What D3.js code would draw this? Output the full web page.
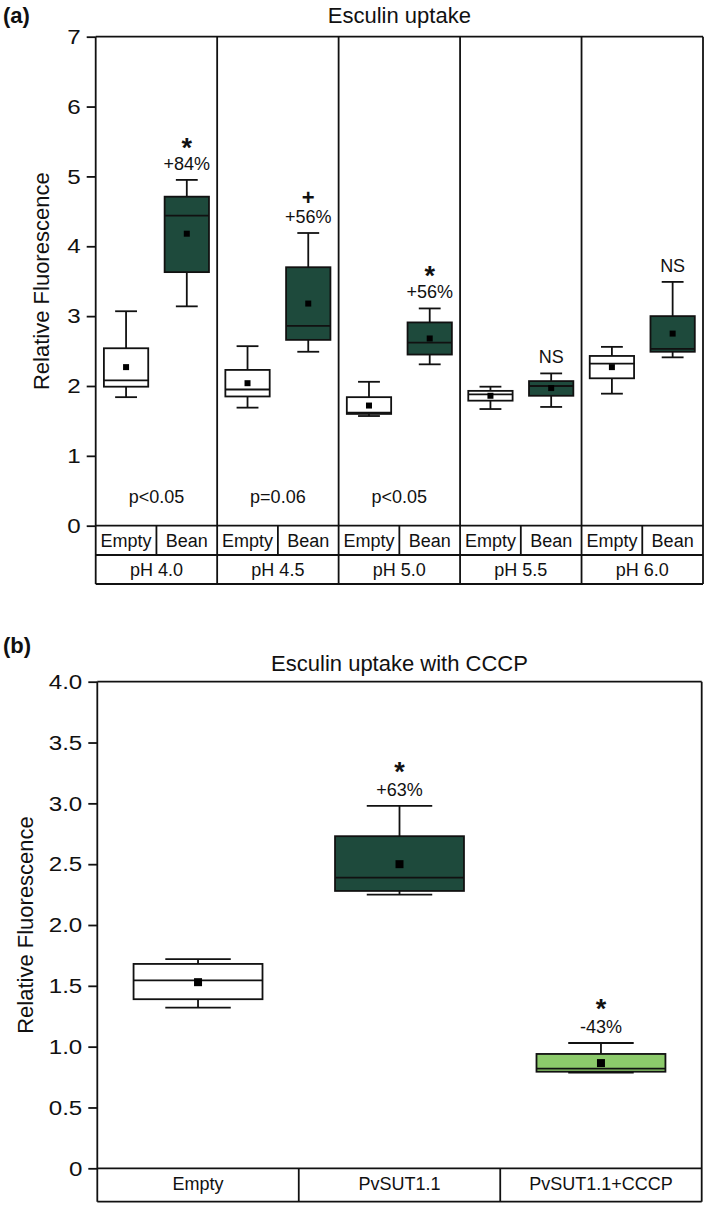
<!DOCTYPE html>
<html>
<head>
<meta charset="utf-8">
<script src="https://cdn.jsdelivr.net/npm/d3@7"></script>
<style>
  body { margin: 0; background: #fff; }
  svg text { font-family: "Liberation Sans", Arial, sans-serif; fill: #111; }
</style>
</head>
<body>
<svg id="chart" width="709" height="1207"></svg>
<script>
// panel (a) data: [whisker low, q1, median, q3, whisker high]
var phGroups = ["pH 4.0", "pH 4.5", "pH 5.0", "pH 5.5", "pH 6.0"];
var strains = ["Empty", "Bean"];
var emptyBoxes = [[1.84, 1.99, 2.08, 2.54, 3.07], [1.69, 1.85, 1.95, 2.23, 2.57], [1.57, 1.60, 1.62, 1.84, 2.06], [1.67, 1.79, 1.88, 1.93, 1.99], [1.89, 2.11, 2.32, 2.43, 2.56]];
var emptyMeans = [2.27, 2.04, 1.72, 1.86, 2.27];
var beanBoxes = [[3.14, 3.63, 4.44, 4.71, 4.95], [2.49, 2.66, 2.86, 3.70, 4.19], [2.31, 2.45, 2.62, 2.91, 3.11], [1.70, 1.86, 2.00, 2.07, 2.18], [2.41, 2.49, 2.53, 3.00, 3.49]];
var beanMeans = [4.18, 3.18, 2.68, 1.97, 2.75];
var beanChange = ["+84%", "+56%", "+56%", "NS", "NS"];
var beanMarks = ["*", "+", "*", "", ""];
var pValues = ["p<0.05", "p=0.06", "p<0.05", "", ""];
var ticksA = [0, 1, 2, 3, 4, 5, 6, 7];

// panel (b) data
var cccpGroups = ["Empty", "PvSUT1.1", "PvSUT1.1+CCCP"];
var cccpBoxes = [[1.32, 1.39, 1.545, 1.68, 1.72], [2.25, 2.28, 2.39, 2.73, 2.98], [0.786, 0.794, 0.82, 0.94, 1.03]];
var cccpMeans = [1.53, 2.50, 0.865];
var cccpChange = ["", "+63%", "-43%"];
var cccpMarks = ["", "*", "*"];
var ticksB = [0, 0.5, 1.0, 1.5, 2.0, 2.5, 3.0, 3.5, 4.0];

var darkGreen = "#1e4a3c", lightGreen = "#8cca6b";
var svg = d3.select("#chart");
var lw = 1.8;

function line(g, x1, y1, x2, y2) {
  g.append("line").attr("x1", x1).attr("y1", y1).attr("x2", x2).attr("y2", y2)
    .attr("stroke", "#111").attr("stroke-width", lw);
}

function drawBox(g, b, mean, cx, bw, cw, fill, y, ms) {
  line(g, cx, y(b[3]), cx, y(b[4]));
  line(g, cx, y(b[1]), cx, y(b[0]));
  line(g, cx - cw / 2, y(b[4]), cx + cw / 2, y(b[4]));
  line(g, cx - cw / 2, y(b[0]), cx + cw / 2, y(b[0]));
  g.append("rect").attr("x", cx - bw / 2).attr("y", y(b[3]))
    .attr("width", bw).attr("height", y(b[1]) - y(b[3]))
    .attr("fill", fill).attr("stroke", "#111").attr("stroke-width", lw);
  line(g, cx - bw / 2, y(b[2]), cx + bw / 2, y(b[2]));
  g.append("rect").attr("x", cx - ms / 2).attr("y", y(mean) - ms / 2)
    .attr("width", ms).attr("height", ms).attr("fill", "#000");
}

// significance mark and change label as one two-line text above the whisker cap
function annotate(g, cx, top, change, mark, starGap) {
  if (!change && !mark) return;
  var t = g.append("text").attr("text-anchor", "middle");
  if (mark === "*") t.append("tspan").attr("x", cx).attr("y", top - starGap)
    .attr("font-size", 27).attr("font-weight", "bold").text(mark);
  if (mark === "+") t.append("tspan").attr("x", cx).attr("y", top - 28)
    .attr("font-size", 22).attr("font-weight", "bold").text(mark);
  if (change) t.append("tspan").attr("x", cx).attr("y", top - 10)
    .attr("font-size", 18).text(change);
}

// tick labels in the figure are a little wider than the font
function styleAxis(ax) {
  ax.select(".domain").remove();
  ax.selectAll(".tick line").attr("stroke", "#111").attr("stroke-width", lw);
  ax.selectAll(".tick text").attr("font-size", 21).attr("font-family", null).attr("fill", "#111")
    .attr("x", 0).attr("transform", "translate(-15,0) scale(1.15,1)");
}

// ---------- panel (a) ----------
var a = { left: 95.7, right: 703, top: 36.7, bottom: 525.7, row1: 555, row2: 584 };
var gA = svg.append("g");

var xA = d3.scaleBand().domain(phGroups).range([a.left, a.right]);
var xA2 = d3.scaleBand().domain(strains).range([0, xA.bandwidth()]);
var yA = d3.scaleLinear().domain([0, 7]).range([a.bottom, a.top]);

gA.append("text").attr("x", 3).attr("y", 23).attr("font-size", 22).attr("font-weight", "bold").text("(a)");
gA.append("text").attr("x", (a.left + a.right) / 2).attr("y", 23).attr("text-anchor", "middle")
  .attr("font-size", 22).text("Esculin uptake");
gA.append("text").attr("transform", "translate(49," + ((a.top + a.bottom) / 2) + ") rotate(-90)")
  .attr("text-anchor", "middle").attr("font-size", 22).text("Relative Fluorescence");

var axA = gA.append("g").attr("transform", "translate(" + a.left + ",0)")
  .call(d3.axisLeft(yA).tickValues(ticksA).tickSize(9).tickPadding(6).tickFormat(d3.format("d")));
styleAxis(axA);

// frame and table
line(gA, a.left, a.top, a.right, a.top);
line(gA, a.left, a.bottom, a.right, a.bottom);
line(gA, a.left, a.row1, a.right, a.row1);
line(gA, a.left, a.row2, a.right, a.row2);
line(gA, a.left, a.top, a.left, a.row2);
phGroups.forEach(function (p, i) {
  var x0 = xA(p);
  line(gA, x0 + xA.bandwidth(), a.top, x0 + xA.bandwidth(), a.row2);
  line(gA, x0 + xA2.bandwidth(), a.bottom, x0 + xA2.bandwidth(), a.row1);
  strains.forEach(function (s) {
    gA.append("text").attr("x", x0 + xA2(s) + xA2.bandwidth() / 2).attr("y", 547)
      .attr("text-anchor", "middle").attr("font-size", 18).text(s);
  });
  gA.append("text").attr("x", x0 + xA.bandwidth() / 2).attr("y", 576)
    .attr("text-anchor", "middle").attr("font-size", 18).text(p);
  if (pValues[i]) gA.append("text").attr("x", x0 + xA.bandwidth() / 2).attr("y", 503)
    .attr("text-anchor", "middle").attr("font-size", 18).text(pValues[i]);

  var bw = xA2.bandwidth() * 0.73, cw = xA2.bandwidth() * 0.36;
  var cE = x0 + xA2("Empty") + xA2.bandwidth() / 2;
  var cB = x0 + xA2("Bean") + xA2.bandwidth() / 2;
  drawBox(gA, emptyBoxes[i], emptyMeans[i], cE, bw, cw, "#fff", yA, 6);
  drawBox(gA, beanBoxes[i], beanMeans[i], cB, bw, cw, darkGreen, yA, 6);
  annotate(gA, cB, yA(beanBoxes[i][4]), beanChange[i], beanMarks[i], 23);
});

// ---------- panel (b) ----------
var b = { left: 97.3, right: 701.7, top: 681.7, bottom: 1168.3, row1: 1201.7 };
var gB = svg.append("g");

var xB = d3.scaleBand().domain(cccpGroups).range([b.left, b.right]);
var yB = d3.scaleLinear().domain([0, 4]).range([b.bottom, b.top]);

gB.append("text").attr("x", 3).attr("y", 653).attr("font-size", 22).attr("font-weight", "bold").text("(b)");
gB.append("text").attr("x", (b.left + b.right) / 2).attr("y", 671).attr("text-anchor", "middle")
  .attr("font-size", 22).text("Esculin uptake with CCCP");
gB.append("text").attr("transform", "translate(33," + ((b.top + b.bottom) / 2) + ") rotate(-90)")
  .attr("text-anchor", "middle").attr("font-size", 22).text("Relative Fluorescence");

var axB = gB.append("g").attr("transform", "translate(" + b.left + ",0)")
  .call(d3.axisLeft(yB).tickValues(ticksB).tickSize(9).tickPadding(6)
    .tickFormat(function (d) { return d === 0 ? "0" : d3.format(".1f")(d); }));
styleAxis(axB);

line(gB, b.left, b.top, b.right, b.top);
line(gB, b.left, b.bottom, b.right, b.bottom);
line(gB, b.left, b.row1, b.right, b.row1);
line(gB, b.left, b.top, b.left, b.row1);
line(gB, b.right, b.top, b.right, b.row1);
var fillsB = ["#fff", darkGreen, lightGreen];
cccpGroups.forEach(function (c, i) {
  var x0 = xB(c), cx = x0 + xB.bandwidth() / 2;
  if (i > 0) line(gB, x0, b.bottom, x0, b.row1);
  gB.append("text").attr("x", cx).attr("y", 1190).attr("text-anchor", "middle")
    .attr("font-size", 18).text(c);
  drawBox(gB, cccpBoxes[i], cccpMeans[i], cx, xB.bandwidth() * 0.64, xB.bandwidth() * 0.325, fillsB[i], yB, 8);
  annotate(gB, cx, yB(cccpBoxes[i][4]), cccpChange[i], cccpMarks[i], 25);
});
</script>
</body>
</html>
